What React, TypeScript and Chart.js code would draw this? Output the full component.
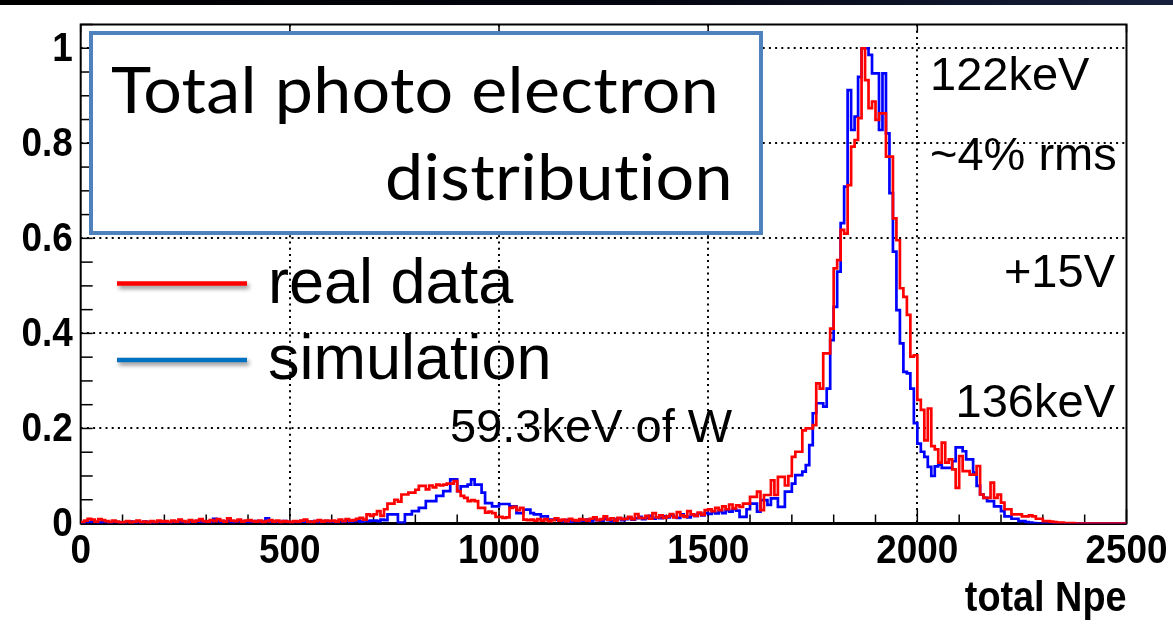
import React, { useEffect, useRef } from "react";
import { Chart, registerables } from "chart.js";

Chart.register(...registerables);

// ---- axis ranges & ticks ----
const X_MIN = 0;
const X_MAX = 2500;
const Y_MIN = 0;
const Y_MAX = 1.05;
const N_BINS = 300;
const xTickValues = [0, 500, 1000, 1500, 2000, 2500];
const xTickLabels = ["0", "500", "1000", "1500", "2000", "2500"];
const yTickValues = [0, 0.2, 0.4, 0.6, 0.8, 1];
const yTickLabels = ["0", "0.2", "0.4", "0.6", "0.8", "1"];
const xGridValues = [500, 1000, 1500, 2000];
const yGridValues = [0.2, 0.4, 0.6, 0.8, 1];
const xMinorStep = 100;
const yMinorStep = 0.05;
const xAxisTitle = "total Npe";

// ---- histogram contents: 300 bins over 0..2500 (12 bins per 100 Npe) ----
const realData = [
  0.003, 0.006, 0.010, 0.008, 0.004, 0.009, 0.007, 0.005, 0.003, 0.006, 0.004, 0.002,
  0.003, 0.005, 0.002, 0.004, 0.006, 0.003, 0.004, 0.002, 0.005, 0.003, 0.006, 0.004,
  0.005, 0.003, 0.006, 0.004, 0.008, 0.005, 0.003, 0.007, 0.004, 0.006, 0.009, 0.005,
  0.004, 0.007, 0.005, 0.009, 0.006, 0.004, 0.011, 0.006, 0.005, 0.008, 0.004, 0.006,
  0.007, 0.005, 0.004, 0.006, 0.003, 0.005, 0.007, 0.004, 0.006, 0.003, 0.005, 0.004,
  0.003, 0.005, 0.004, 0.006, 0.008, 0.004, 0.003, 0.005, 0.007, 0.004, 0.006, 0.005,
  0.006, 0.004, 0.008, 0.005, 0.009, 0.006, 0.007, 0.010, 0.012, 0.008, 0.019, 0.016,
  0.019, 0.026, 0.016, 0.030, 0.042, 0.042, 0.050, 0.046, 0.061, 0.061, 0.065, 0.065,
  0.071, 0.079, 0.079, 0.072, 0.080, 0.076, 0.082, 0.080, 0.082, 0.084, 0.084, 0.089,
  0.068, 0.058, 0.054, 0.047, 0.049, 0.047, 0.033, 0.033, 0.023, 0.025, 0.022, 0.014,
  0.014, 0.012, 0.013, 0.033, 0.035, 0.028, 0.033, 0.008, 0.007, 0.008, 0.006, 0.009,
  0.006, 0.009, 0.005, 0.007, 0.011, 0.006, 0.008, 0.005, 0.010, 0.007, 0.006, 0.009,
  0.008, 0.006, 0.010, 0.013, 0.007, 0.009, 0.015, 0.008, 0.011, 0.006, 0.012, 0.009,
  0.010, 0.014, 0.009, 0.020, 0.012, 0.011, 0.016, 0.010, 0.022, 0.013, 0.017, 0.012,
  0.015, 0.020, 0.013, 0.024, 0.017, 0.014, 0.026, 0.019, 0.016, 0.023, 0.018, 0.028,
  0.030, 0.026, 0.033, 0.028, 0.036, 0.030, 0.040, 0.032, 0.038, 0.035, 0.042, 0.042,
  0.056, 0.056, 0.067, 0.028, 0.060, 0.060, 0.091, 0.060, 0.098, 0.098, 0.080, 0.100,
  0.140, 0.151, 0.151, 0.196, 0.200, 0.200, 0.207, 0.295, 0.284, 0.358, 0.358, 0.410,
  0.537, 0.554, 0.618, 0.610, 0.712, 0.793, 0.807, 0.853, 1.000, 0.933, 0.874, 0.888,
  0.849, 0.863, 0.863, 0.772, 0.772, 0.642, 0.596, 0.495, 0.477, 0.439, 0.351, 0.354,
  0.260, 0.239, 0.175, 0.242, 0.163, 0.156, 0.128, 0.170, 0.128, 0.135, 0.114, 0.075,
  0.142, 0.110, 0.110, 0.103, 0.103, 0.121, 0.061, 0.054, 0.054, 0.086, 0.054, 0.061,
  0.044, 0.030, 0.030, 0.019, 0.019, 0.019, 0.015, 0.015, 0.017, 0.015, 0.010, 0.010,
  0.005, 0.005, 0.004, 0.003, 0.002, 0.002, 0.001, 0.001, 0.001, 0.000, 0.000, 0.000,
  0.000, 0.000, 0.000, 0.000, 0.000, 0.000, 0.000, 0.000, 0.000, 0.000, 0.000, 0.000,
];

const simulation = [
  0.002, 0.004, 0.003, 0.005, 0.003, 0.002, 0.004, 0.003, 0.002, 0.004, 0.003, 0.002,
  0.002, 0.003, 0.004, 0.002, 0.003, 0.002, 0.004, 0.003, 0.002, 0.003, 0.004, 0.002,
  0.003, 0.002, 0.004, 0.003, 0.005, 0.003, 0.002, 0.004, 0.003, 0.005, 0.004, 0.003,
  0.004, 0.003, 0.010, 0.005, 0.003, 0.004, 0.006, 0.003, 0.004, 0.005, 0.003, 0.004,
  0.003, 0.004, 0.005, 0.003, 0.004, 0.011, 0.004, 0.003, 0.004, 0.003, 0.005, 0.003,
  0.003, 0.004, 0.003, 0.005, 0.004, 0.003, 0.004, 0.005, 0.003, 0.004, 0.005, 0.004,
  0.004, 0.003, 0.005, 0.004, 0.006, 0.004, 0.005, 0.006, 0.004, 0.007, 0.005, 0.006,
  0.006, 0.005, 0.008, 0.007, 0.019, 0.019, 0.019, 0.002, 0.002, 0.019, 0.019, 0.026,
  0.026, 0.033, 0.033, 0.047, 0.047, 0.047, 0.058, 0.058, 0.068, 0.068, 0.093, 0.093,
  0.068, 0.078, 0.078, 0.082, 0.093, 0.082, 0.082, 0.065, 0.043, 0.043, 0.036, 0.036,
  0.041, 0.041, 0.041, 0.036, 0.036, 0.022, 0.022, 0.029, 0.029, 0.022, 0.019, 0.019,
  0.015, 0.015, 0.008, 0.008, 0.008, 0.006, 0.005, 0.007, 0.004, 0.006, 0.005, 0.007,
  0.006, 0.008, 0.005, 0.009, 0.007, 0.006, 0.010, 0.007, 0.005, 0.008, 0.011, 0.007,
  0.009, 0.012, 0.008, 0.011, 0.014, 0.009, 0.012, 0.016, 0.010, 0.013, 0.011, 0.015,
  0.013, 0.017, 0.014, 0.012, 0.019, 0.015, 0.013, 0.018, 0.016, 0.021, 0.017, 0.022,
  0.020, 0.024, 0.021, 0.026, 0.022, 0.028, 0.025, 0.030, 0.027, 0.014, 0.014, 0.030,
  0.042, 0.042, 0.025, 0.049, 0.049, 0.039, 0.053, 0.053, 0.035, 0.035, 0.067, 0.067,
  0.084, 0.102, 0.102, 0.109, 0.123, 0.165, 0.232, 0.253, 0.253, 0.246, 0.284, 0.386,
  0.456, 0.530, 0.632, 0.709, 0.912, 0.828, 0.856, 0.940, 1.000, 1.000, 0.986, 0.947,
  0.947, 0.828, 0.947, 0.821, 0.695, 0.572, 0.449, 0.379, 0.319, 0.316, 0.284, 0.211,
  0.168, 0.151, 0.140, 0.119, 0.100, 0.120, 0.124, 0.117, 0.117, 0.117, 0.131, 0.160,
  0.160, 0.152, 0.135, 0.135, 0.107, 0.079, 0.061, 0.054, 0.047, 0.047, 0.036, 0.036,
  0.026, 0.015, 0.015, 0.010, 0.010, 0.005, 0.005, 0.003, 0.002, 0.001, 0.000, 0.000,
  0.000, 0.000, 0.000, 0.000, 0.000, 0.000, 0.000, 0.000, 0.000, 0.000, 0.000, 0.000,
  0.000, 0.000, 0.000, 0.000, 0.000, 0.000, 0.000, 0.000, 0.000, 0.000, 0.000, 0.000,
];

// ---- annotation texts ----
const titleLine1 = "Total photo electron";
const titleLine2 = "distribution";
const legendReal = "real data";
const legendSim = "simulation";
const noteLines = ["122keV", "~4% rms", "+15V", "136keV", "59.3keV of W"];

function toSteps(values: number[]) {
  const w = (X_MAX - X_MIN) / N_BINS;
  const pts = values.map((v, i) => ({ x: X_MIN + i * w, y: v }));
  pts.push({ x: X_MAX, y: values[values.length - 1] });
  return pts;
}

const AXIS_FONT = 'bold 41px "Liberation Sans", Arial, sans-serif';
const AXIS_TITLE_FONT = 'bold 42px "Liberation Sans", Arial, sans-serif';
const NOTE_FONT = '47px "Liberation Sans", Arial, sans-serif';
const LEG_FONT = '63px "Liberation Sans", Arial, sans-serif';
const TITLE_FONT = '63px Lato, "Open Sans", sans-serif';

// draws text scaled horizontally so that it spans exactly `width`
function fitText(ctx: CanvasRenderingContext2D, text: string, x: number, y: number, width: number, align: "left" | "right" | "center") {
  const w = ctx.measureText(text).width;
  const sx = width / w;
  ctx.save();
  ctx.textAlign = "left";
  let x0 = x;
  if (align === "right") x0 = x - width;
  else if (align === "center") x0 = x - width / 2;
  ctx.translate(x0, y);
  ctx.scale(sx, 1);
  ctx.fillText(text, 0, 0);
  ctx.restore();
}

const rootStyle = {
  id: "rootStyle",
  beforeDraw(chart: any) {
    const ctx = chart.ctx;
    ctx.save();
    ctx.fillStyle = "#ffffff";
    ctx.fillRect(0, 0, chart.width, chart.height);
    const g = ctx.createLinearGradient(0, 0, chart.width, 0);
    g.addColorStop(0, "#000000");
    g.addColorStop(0.55, "#03050f");
    g.addColorStop(1, "#17203d");
    ctx.fillStyle = g;
    ctx.fillRect(0, 0, chart.width, 5);
    ctx.restore();
  },
  beforeDatasetsDraw(chart: any) {
    const ctx = chart.ctx;
    const xs = chart.scales.x;
    const ys = chart.scales.y;
    const { left, right, top, bottom } = chart.chartArea;
    ctx.save();
    // dotted grid
    ctx.strokeStyle = "#000";
    ctx.lineWidth = 2;
    ctx.setLineDash([2, 4.2]);
    for (const v of xGridValues) {
      const px = Math.round(xs.getPixelForValue(v));
      ctx.beginPath();
      ctx.moveTo(px, top);
      ctx.lineTo(px, bottom);
      ctx.stroke();
    }
    for (const v of yGridValues) {
      const py = Math.round(ys.getPixelForValue(v));
      ctx.beginPath();
      ctx.moveTo(left, py);
      ctx.lineTo(right, py);
      ctx.stroke();
    }
    ctx.setLineDash([]);
    // frame
    ctx.lineWidth = 2;
    ctx.strokeStyle = "#000";
    ctx.strokeRect(left, top, right - left, bottom - top);
    ctx.lineWidth = 3;
    ctx.beginPath();
    ctx.moveTo(left, bottom);
    ctx.lineTo(right, bottom);
    ctx.stroke();
    // ticks
    ctx.lineWidth = 1.5;
    const nY = Math.round((Y_MAX - Y_MIN) / yMinorStep);
    for (let i = 0; i <= nY; i++) {
      const py = ys.getPixelForValue(Y_MIN + i * yMinorStep);
      ctx.beginPath();
      ctx.moveTo(left, py);
      ctx.lineTo(left + 12, py);
      ctx.stroke();
    }
    const nX = Math.round((X_MAX - X_MIN) / xMinorStep);
    for (let i = 0; i <= nX; i++) {
      const v = X_MIN + i * xMinorStep;
      const px = xs.getPixelForValue(v);
      const major = v % 500 === 0;
      ctx.beginPath();
      ctx.moveTo(px, bottom);
      ctx.lineTo(px, bottom - (major ? 14 : 9));
      ctx.stroke();
      if (major) {
        ctx.beginPath();
        ctx.moveTo(px, top);
        ctx.lineTo(px, top + 8);
        ctx.stroke();
      }
    }
    // tick labels (bold, slightly condensed like the ROOT rendering)
    ctx.fillStyle = "#000";
    ctx.font = AXIS_FONT;
    ctx.textBaseline = "middle";
    const cond = 0.9;
    yTickValues.forEach((v, i) => {
      const w = ctx.measureText(yTickLabels[i]).width * cond;
      fitText(ctx, yTickLabels[i], left - 8, ys.getPixelForValue(v) + 1, w, "right");
    });
    ctx.textBaseline = "alphabetic";
    xTickValues.forEach((v, i) => {
      const w = ctx.measureText(xTickLabels[i]).width * cond;
      fitText(ctx, xTickLabels[i], xs.getPixelForValue(v), 563, w, "center");
    });
    ctx.font = AXIS_TITLE_FONT;
    const tw = ctx.measureText(xAxisTitle).width * cond;
    fitText(ctx, xAxisTitle, right, 611, tw, "right");
    ctx.restore();
  },
  afterDatasetsDraw(chart: any) {
    const ctx = chart.ctx;
    ctx.save();
    // title box
    ctx.fillStyle = "#ffffff";
    ctx.fillRect(91, 33, 670, 200);
    ctx.strokeStyle = "#4F81BD";
    ctx.lineWidth = 4;
    ctx.strokeRect(91, 33, 670, 200);
    ctx.fillStyle = "#000";
    ctx.font = TITLE_FONT;
    ctx.textBaseline = "alphabetic";
    // a tiny letter spacing keeps the "ti" pair as separate glyphs
    (ctx as any).letterSpacing = "0.3px";
    fitText(ctx, titleLine1, 111, 113, 608, "left");
    fitText(ctx, titleLine2, 733, 200, 348, "right");
    (ctx as any).letterSpacing = "0px";

    // legend lines with shadow
    ctx.save();
    ctx.shadowColor = "rgba(0,0,0,0.45)";
    ctx.shadowBlur = 4;
    ctx.shadowOffsetX = 2;
    ctx.shadowOffsetY = 3;
    ctx.lineWidth = 4.5;
    ctx.strokeStyle = "#FF0000";
    ctx.beginPath();
    ctx.moveTo(117, 283.5);
    ctx.lineTo(247, 283.5);
    ctx.stroke();
    ctx.strokeStyle = "#0070C0";
    ctx.beginPath();
    ctx.moveTo(117, 360);
    ctx.lineTo(247, 360);
    ctx.stroke();
    ctx.restore();

    ctx.fillStyle = "#000";
    ctx.font = LEG_FONT;
    ctx.textAlign = "left";
    ctx.fillText(legendReal, 268, 303);
    ctx.fillText(legendSim, 268, 379);

    // notes
    ctx.font = NOTE_FONT;
    ctx.textAlign = "left";
    ctx.fillText(noteLines[0], 930, 90);
    ctx.fillText(noteLines[1], 930, 170);
    ctx.textAlign = "right";
    ctx.fillText(noteLines[2], 1115, 287);
    ctx.fillText(noteLines[3], 1115, 417);
    ctx.textAlign = "left";
    ctx.fillText(noteLines[4], 450, 442);
    ctx.restore();
  },
};

export default function App() {
  const canvasRef = useRef<HTMLCanvasElement | null>(null);

  useEffect(() => {
    const canvas = canvasRef.current;
    if (!canvas) return;
    const chart = new Chart(canvas, {
      type: "line",
      data: {
        datasets: [
          {
            label: legendReal,
            data: toSteps(realData),
            borderColor: "#FF0000",
            borderWidth: 2.7,
            pointRadius: 0,
            stepped: "before",
            fill: false,
            order: 0,
          },
          {
            label: legendSim,
            data: toSteps(simulation),
            borderColor: "#0000FF",
            borderWidth: 2.7,
            pointRadius: 0,
            stepped: "before",
            fill: false,
            order: 1,
          },
        ],
      },
      options: {
        animation: false,
        responsive: false,
        devicePixelRatio: 1,
        layout: { padding: { left: 80.7, right: 46.5, top: 24.5, bottom: 109.5 } },
        plugins: { legend: { display: false }, tooltip: { enabled: false } },
        elements: { line: { tension: 0 } },
        scales: {
          x: { type: "linear", min: X_MIN, max: X_MAX, display: false },
          y: { type: "linear", min: Y_MIN, max: Y_MAX, display: false },
        },
      },
      plugins: [rootStyle],
    });
    return () => chart.destroy();
  }, []);

  return (
    <div style={{ position: "absolute", left: 0, top: 0, width: 1173, height: 633, background: "#fff" }}>
      <canvas ref={canvasRef} width={1173} height={633} style={{ display: "block" }} />
    </div>
  );
}
